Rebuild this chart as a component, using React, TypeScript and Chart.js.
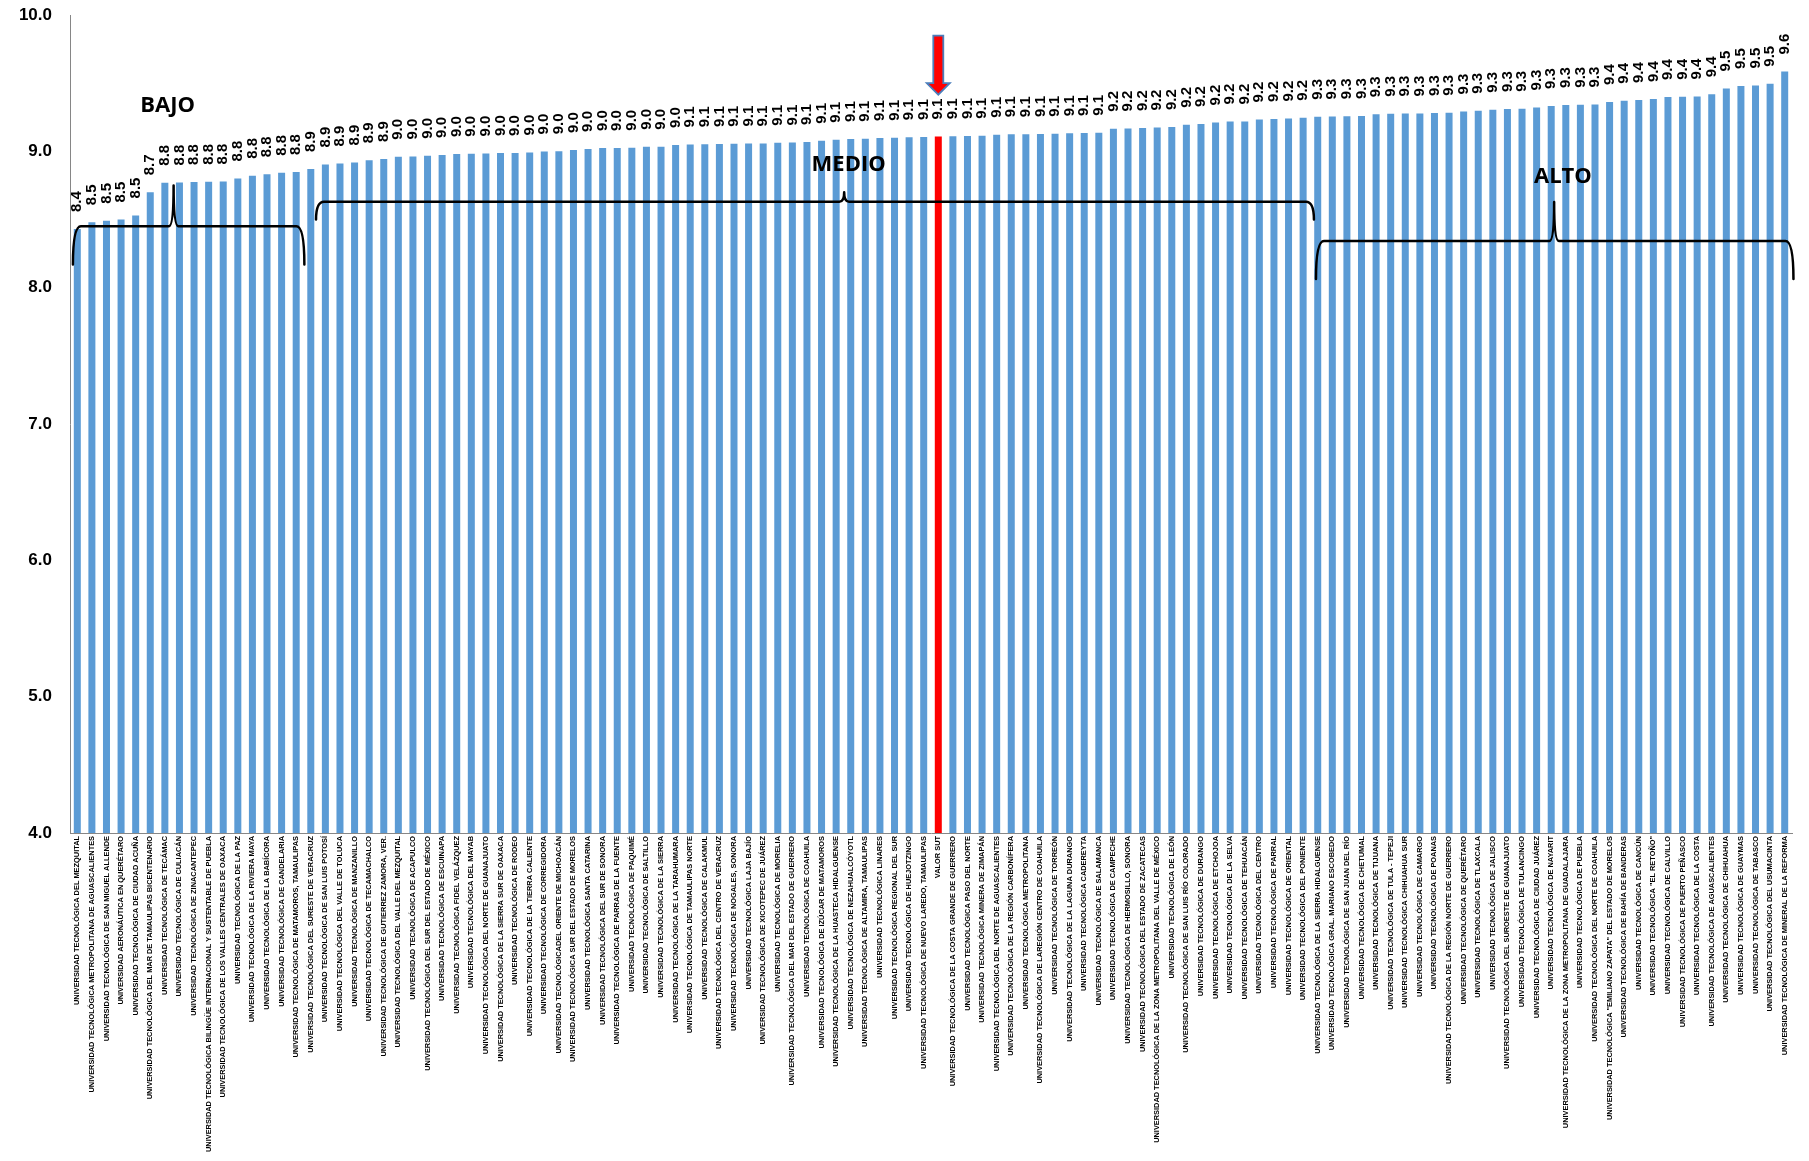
import React, { useEffect, useRef } from 'react';
import { Chart, registerables } from 'chart.js';

Chart.register(...registerables);

const SUT_LABEL = 'VALOR SUT';

const categories: string[] = [
  'UNIVERSIDAD TECNOLÓGICA DEL MEZQUITAL',
  'UNIVERSIDAD TECNOLÓGICA METROPOLITANA DE AGUASCALIENTES',
  'UNIVERSIDAD TECNOLÓGICA DE SAN MIGUEL ALLENDE',
  'UNIVERSIDAD AERONÁUTICA EN QUERÉTARO',
  'UNIVERSIDAD TECNOLÓGICA DE CIUDAD ACUÑA',
  'UNIVERSIDAD TECNOLÓGICA DEL MAR DE TAMAULIPAS BICENTENARIO',
  'UNIVERSIDAD TECNOLÓGICA DE TECÁMAC',
  'UNIVERSIDAD TECNOLÓGICA DE CULIACÁN',
  'UNIVERSIDAD TECNOLÓGICA DE ZINACANTEPEC',
  'UNIVERSIDAD TECNOLÓGICA BILINGÜE INTERNACIONAL Y SUSTENTABLE DE PUEBLA',
  'UNIVERSIDAD TECNOLÓGICA DE LOS VALLES CENTRALES DE OAXACA',
  'UNIVERSIDAD TECNOLÓGICA DE LA PAZ',
  'UNIVERSIDAD TECNOLÓGICA DE LA RIVIERA MAYA',
  'UNIVERSIDAD TECNOLÓGICA DE LA BABÍCORA',
  'UNIVERSIDAD TECNOLÓGICA DE CANDELARIA',
  'UNIVERSIDAD TECNOLÓGICA DE MATAMOROS, TAMAULIPAS',
  'UNIVERSIDAD TECNOLÓGICA DEL SURESTE DE VERACRUZ',
  'UNIVERSIDAD TECNOLÓGICA DE SAN LUIS POTOSÍ',
  'UNIVERSIDAD TECNOLÓGICA DEL VALLE DE TOLUCA',
  'UNIVERSIDAD TECNOLÓGICA DE MANZANILLO',
  'UNIVERSIDAD TECNOLÓGICA DE TECAMACHALCO',
  'UNIVERSIDAD TECNOLÓGICA DE GUTIERREZ ZAMORA, VER.',
  'UNIVERSIDAD TECNOLÓGICA DEL VALLE DEL MEZQUITAL',
  'UNIVERSIDAD TECNOLÓGICA DE ACAPULCO',
  'UNIVERSIDAD TECNOLÓGICA DEL SUR DEL ESTADO DE MÉXICO',
  'UNIVERSIDAD TECNOLÓGICA DE ESCUINAPA',
  'UNIVERSIDAD TECNOLÓGICA FIDEL VELÁZQUEZ',
  'UNIVERSIDAD TECNOLÓGICA DEL MAYAB',
  'UNIVERSIDAD TECNOLÓGICA DEL NORTE DE GUANAJUATO',
  'UNIVERSIDAD TECNOLÓGICA DE LA SIERRA SUR DE OAXACA',
  'UNIVERSIDAD TECNOLÓGICA DE RODEO',
  'UNIVERSIDAD TECNOLÓGICA DE LA TIERRA CALIENTE',
  'UNIVERSIDAD TECNOLÓGICA DE CORREGIDORA',
  'UNIVERSIDAD TECNOLÓGICADEL ORIENTE DE MICHOACÁN',
  'UNIVERSIDAD TECNOLÓGICA SUR DEL ESTADO DE MORELOS',
  'UNIVERSIDAD TECNOLÓGICA SANTA CATARINA',
  'UNIVERSIDAD TECNOLÓGICA DEL SUR DE SONORA',
  'UNIVERSIDAD TECNOLÓGICA DE PARRAS DE LA FUENTE',
  'UNIVERSIDAD TECNOLÓGICA DE PAQUIMÉ',
  'UNIVERSIDAD TECNOLÓGICA DE SALTILLO',
  'UNIVERSIDAD TECNOLÓGICA DE LA SIERRA',
  'UNIVERSIDAD TECNOLÓGICA DE LA TARAHUMARA',
  'UNIVERSIDAD TECNOLÓGICA DE TAMAULIPAS NORTE',
  'UNIVERSIDAD TECNOLÓGICA DE CALAKMUL',
  'UNIVERSIDAD TECNOLÓGICA DEL CENTRO DE VERACRUZ',
  'UNIVERSIDAD TECNOLÓGICA DE NOGALES, SONORA',
  'UNIVERSIDAD TECNOLÓGICA LAJA BAJÍO',
  'UNIVERSIDAD TECNOLÓGICA DE XICOTEPEC DE JUÁREZ',
  'UNIVERSIDAD TECNOLÓGICA DE MORELIA',
  'UNIVERSIDAD TECNOLÓGICA DEL MAR DEL ESTADO DE GUERRERO',
  'UNIVERSIDAD TECNOLÓGICA DE COAHUILA',
  'UNIVERSIDAD TECNOLÓGICA DE IZÚCAR DE MATAMOROS',
  'UNIVERSIDAD TECNOLÓGICA DE LA HUASTECA HIDALGUENSE',
  'UNIVERSIDAD TECNOLÓGICA DE NEZAHUALCÓYOTL',
  'UNIVERSIDAD TECNOLÓGICA DE ALTAMIRA, TAMAULIPAS',
  'UNIVERSIDAD TECNOLÓGICA LINARES',
  'UNIVERSIDAD TECNOLÓGICA REGIONAL DEL SUR',
  'UNIVERSIDAD TECNOLÓGICA DE HUEJOTZINGO',
  'UNIVERSIDAD TECNOLÓGICA DE NUEVO LAREDO, TAMAULIPAS',
  'VALOR SUT',
  'UNIVERSIDAD TECNOLÓGICA DE LA COSTA GRANDE DE GUERRERO',
  'UNIVERSIDAD TECNOLÓGICA PASO DEL NORTE',
  'UNIVERSIDAD TECNOLÓGICA MINERA DE ZIMAPÁN',
  'UNIVERSIDAD TECNOLÓGICA DEL NORTE DE AGUASCALIENTES',
  'UNIVERSIDAD TECNOLÓGICA DE LA REGIÓN CARBONÍFERA',
  'UNIVERSIDAD TECNOLÓGICA METROPOLITANA',
  'UNIVERSIDAD TECNOLÓGICA DE LAREGIÓN CENTRO DE COAHUILA',
  'UNIVERSIDAD TECNOLÓGICA DE TORREÓN',
  'UNIVERSIDAD TECNOLÓGICA DE LA LAGUNA DURANGO',
  'UNIVERSIDAD TECNOLÓGICA CADEREYTA',
  'UNIVERSIDAD TECNOLÓGICA DE SALAMANCA',
  'UNIVERSIDAD TECNOLÓGICA DE CAMPECHE',
  'UNIVERSIDAD TECNOLÓGICA DE HERMOSILLO, SONORA',
  'UNIVERSIDAD TECNOLÓGICA DEL ESTADO DE ZACATECAS',
  'UNIVERSIDAD TECNOLÓGICA DE LA ZONA METROPOLITANA DEL VALLE DE MÉXICO',
  'UNIVERSIDAD TECNOLÓGICA DE LEÓN',
  'UNIVERSIDAD TECNOLÓGICA DE SAN LUIS RÍO COLORADO',
  'UNIVERSIDAD TECNOLÓGICA DE DURANGO',
  'UNIVERSIDAD TECNOLÓGICA DE ETCHOJOA',
  'UNIVERSIDAD TECNOLÓGICA DE LA SELVA',
  'UNIVERSIDAD TECNOLÓGICA DE TEHUACÁN',
  'UNIVERSIDAD TECNOLÓGICA DEL CENTRO',
  'UNIVERSIDAD TECNOLÓGICA DE PARRAL',
  'UNIVERSIDAD TECNOLÓGICA DE ORIENTAL',
  'UNIVERSIDAD TECNOLÓGICA DEL PONIENTE',
  'UNIVERSIDAD TECNOLÓGICA DE LA SIERRA HIDALGUENSE',
  'UNIVERSIDAD TECNOLÓGICA GRAL. MARIANO ESCOBEDO',
  'UNIVERSIDAD TECNOLÓGICA DE SAN JUAN DEL RÍO',
  'UNIVERSIDAD TECNOLÓGICA DE CHETUMAL',
  'UNIVERSIDAD TECNOLÓGICA DE TIJUANA',
  'UNIVERSIDAD TECNOLÓGICA DE TULA - TEPEJI',
  'UNIVERSIDAD TECNOLÓGICA CHIHUAHUA SUR',
  'UNIVERSIDAD TECNOLÓGICA DE CAMARGO',
  'UNIVERSIDAD TECNOLÓGICA DE POANAS',
  'UNIVERSIDAD TECNOLÓGICA DE LA REGIÓN NORTE DE GUERRERO',
  'UNIVERSIDAD TECNOLÓGICA DE QUERÉTARO',
  'UNIVERSIDAD TECNOLÓGICA DE TLAXCALA',
  'UNIVERSIDAD TECNOLÓGICA DE JALISCO',
  'UNIVERSIDAD TECNOLÓGICA DEL SUROESTE DE GUANAJUATO',
  'UNIVERSIDAD TECNOLÓGICA DE TULANCINGO',
  'UNIVERSIDAD TECNOLÓGICA DE CIUDAD JUÁREZ',
  'UNIVERSIDAD TECNOLÓGICA DE NAYARIT',
  'UNIVERSIDAD TECNOLÓGICA DE LA ZONA METROPOLITANA DE GUADALAJARA',
  'UNIVERSIDAD TECNOLÓGICA DE PUEBLA',
  'UNIVERSIDAD TECNOLÓGICA DEL NORTE DE COAHUILA',
  'UNIVERSIDAD TECNOLÓGICA "EMILIANO ZAPATA" DEL ESTADO DE MORELOS',
  'UNIVERSIDAD TECNOLÓGICA DE BAHÍA DE BANDERAS',
  'UNIVERSIDAD TECNOLÓGICA DE CANCÚN',
  'UNIVERSIDAD TECNOLÓGICA "EL RETOÑO"',
  'UNIVERSIDAD TECNOLÓGICA DE CALVILLO',
  'UNIVERSIDAD TECNOLÓGICA DE PUERTO PEÑASCO',
  'UNIVERSIDAD TECNOLÓGICA DE LA COSTA',
  'UNIVERSIDAD TECNOLÓGICA DE AGUASCALIENTES',
  'UNIVERSIDAD TECNOLÓGICA DE CHIHUAHUA',
  'UNIVERSIDAD TECNOLÓGICA DE GUAYMAS',
  'UNIVERSIDAD TECNOLÓGICA DE TABASCO',
  'UNIVERSIDAD TECNOLÓGICA DEL USUMACINTA',
  'UNIVERSIDAD TECNOLÓGICA DE MINERAL DE LA REFORMA',
];

const scores: number[] = [
  8.43, 8.48, 8.49, 8.50, 8.53, 8.70, 8.77, 8.772, 8.775, 8.776,
  8.778, 8.80, 8.82, 8.832, 8.842, 8.848, 8.87, 8.903, 8.91, 8.918,
  8.935, 8.944, 8.96, 8.962, 8.967, 8.974, 8.98, 8.982, 8.984, 8.987,
  8.988, 8.991, 8.998, 9.0, 9.009, 9.018, 9.024, 9.025, 9.027, 9.033,
  9.034, 9.046, 9.051, 9.052, 9.054, 9.055, 9.057, 9.058, 9.063, 9.065,
  9.068, 9.077, 9.085, 9.09, 9.092, 9.097, 9.099, 9.104, 9.105, 9.109,
  9.11, 9.112, 9.114, 9.121, 9.125, 9.126, 9.128, 9.129, 9.133, 9.134,
  9.136, 9.165, 9.168, 9.171, 9.175, 9.178, 9.195, 9.2, 9.212, 9.218,
  9.219, 9.233, 9.238, 9.241, 9.246, 9.254, 9.255, 9.258, 9.259, 9.272,
  9.276, 9.277, 9.278, 9.281, 9.283, 9.293, 9.298, 9.305, 9.31, 9.313,
  9.322, 9.332, 9.34, 9.342, 9.343, 9.362, 9.371, 9.376, 9.384, 9.398,
  9.40, 9.403, 9.418, 9.46, 9.479, 9.482, 9.496, 9.585,
];

const yTickValues: number[] = [4, 5, 6, 7, 8, 9, 10];

// Group annotations (category index / value coordinates)
const groupNames: string[] = ['BAJO', 'MEDIO', 'ALTO'];
const groupFrom: number[] = [-0.3, 16.36, 84.88];
const groupTo: number[] = [15.56, 84.74, 117.6];
const groupTip: number[] = [6.6, 52.55, 101.2];
const groupLine: number[] = [8.45, 8.63, 8.342];
const groupEnd: number[] = [8.17, 8.5, 8.063];
const groupTop: number[] = [8.75, 8.70, 8.629];
const groupTextX: number[] = [6.19, 52.86, 101.8];
const groupTextY: number[] = [9.347, 8.915, 8.824];

// Arrow over the SUT bar (value coordinates)
const arrowTopValue = 9.849;
const arrowHeadValue = 9.501;
const arrowTipValue = 9.415;

const BLUE = '#5B9BD5';
const RED = '#FF0000';

const annotationPlugin = {
  id: 'annotations',
  afterDatasetsDraw(chart: any) {
    const ctx: CanvasRenderingContext2D = chart.ctx;
    const xs = chart.scales.x;
    const ys = chart.scales.y;
    const meta = chart.getDatasetMeta(0);
    ctx.save();

    // value labels (rotated)
    ctx.fillStyle = '#000';
    ctx.font = 'bold 15px "Liberation Sans", Arial, sans-serif';
    ctx.textAlign = 'left';
    ctx.textBaseline = 'middle';
    meta.data.forEach((bar: any, i: number) => {
      const txt = scores[i].toFixed(1);
      ctx.save();
      ctx.translate(bar.x, bar.y - 17);
      ctx.rotate(-Math.PI / 2);
      ctx.fillText(txt, 0, 0);
      ctx.restore();
    });

    // braces
    ctx.strokeStyle = '#000';
    ctx.lineWidth = 2.5;
    ctx.lineJoin = 'round';
    ctx.lineCap = 'round';
    for (let g = 0; g < groupNames.length; g++) {
      const x0 = xs.getPixelForValue(groupFrom[g]);
      const x1 = xs.getPixelForValue(groupTo[g]);
      const xt = xs.getPixelForValue(groupTip[g]);
      const yl = ys.getPixelForValue(groupLine[g]);
      const ye = ys.getPixelForValue(groupEnd[g]);
      const yt = ys.getPixelForValue(groupTop[g]);
      const r = 8;
      ctx.beginPath();
      ctx.moveTo(x0, ye);
      ctx.quadraticCurveTo(x0, yl, x0 + r, yl);
      ctx.lineTo(xt - r * 0.6, yl);
      ctx.quadraticCurveTo(xt, yl, xt, yt);
      ctx.quadraticCurveTo(xt, yl, xt + r * 0.6, yl);
      ctx.lineTo(x1 - r, yl);
      ctx.quadraticCurveTo(x1, yl, x1, ye);
      ctx.stroke();

      // group label
      const fs = 22;
      ctx.font = `bold ${fs}px "Open Sans", "Liberation Sans", sans-serif`;
      ctx.textAlign = 'center';
      ctx.textBaseline = 'alphabetic';
      ctx.fillStyle = '#000';
      const tx = xs.getPixelForValue(groupTextX[g]);
      const ty = ys.getPixelForValue(groupTextY[g]);
      ctx.fillText(groupNames[g], tx, ty + fs * 0.36);
    }

    // arrow over the SUT bar
    const sutIdx = categories.indexOf(SUT_LABEL);
    if (sutIdx >= 0) {
      const cx = xs.getPixelForValue(sutIdx);
      const yTop = ys.getPixelForValue(arrowTopValue);
      const yHead = ys.getPixelForValue(arrowHeadValue);
      const yTip = ys.getPixelForValue(arrowTipValue);
      const sw = 5;
      const hw = 11.5;
      ctx.beginPath();
      ctx.moveTo(cx - sw, yTop);
      ctx.lineTo(cx + sw, yTop);
      ctx.lineTo(cx + sw, yHead);
      ctx.lineTo(cx + hw, yHead);
      ctx.lineTo(cx, yTip);
      ctx.lineTo(cx - hw, yHead);
      ctx.lineTo(cx - sw, yHead);
      ctx.closePath();
      ctx.fillStyle = RED;
      ctx.fill();
      ctx.lineWidth = 1.8;
      ctx.lineJoin = 'miter';
      ctx.strokeStyle = '#4A7EBB';
      ctx.stroke();
    }

    ctx.restore();
  },
};

export default function App() {
  const ref = useRef<HTMLCanvasElement>(null);

  useEffect(() => {
    const canvas = ref.current;
    if (!canvas) return;
    const chart = new Chart(canvas, {
      type: 'bar',
      data: {
        labels: categories,
        datasets: [
          {
            data: scores,
            backgroundColor: categories.map((c) => (c === SUT_LABEL ? RED : BLUE)),
            borderWidth: 0,
            barPercentage: 0.48,
            categoryPercentage: 1,
          },
        ],
      },
      options: {
        responsive: false,
        animation: false,
        devicePixelRatio: 1,
        layout: { padding: { top: 15, right: 17, left: 0, bottom: 0 } },
        plugins: {
          legend: { display: false },
          tooltip: { enabled: false },
          title: { display: false },
        },
        scales: {
          x: {
            grid: { display: false, drawTicks: false },
            border: { display: true, color: '#868686', width: 1 },
            ticks: {
              autoSkip: false,
              minRotation: 90,
              maxRotation: 90,
              padding: 3,
              color: '#000',
              font: { family: '"Liberation Sans", Arial, sans-serif', size: 7.4, weight: 'bold' },
            },
            afterFit: (s: any) => {
              s.height = 328;
            },
          },
          y: {
            min: 4,
            max: 10,
            grid: { display: false, drawTicks: false },
            border: { display: true, color: '#868686', width: 1 },
            ticks: {
              padding: 18,
              color: '#000',
              font: { family: '"Liberation Sans", Arial, sans-serif', size: 17, weight: 'bold' },
              callback: (v: any) => Number(v).toFixed(1),
            },
            afterBuildTicks: (s: any) => {
              s.ticks = yTickValues.map((v) => ({ value: v }));
            },
            afterFit: (s: any) => {
              s.width = 70;
              s.paddingTop = 0;
              s.paddingBottom = 0;
            },
          },
        },
      } as any,
      plugins: [annotationPlugin],
    });
    return () => chart.destroy();
  }, []);

  return (
    <canvas
      ref={ref}
      width={1809}
      height={1161}
      style={{ position: 'absolute', left: 0, top: 0, display: 'block', width: 1809, height: 1161 }}
    />
  );
}
